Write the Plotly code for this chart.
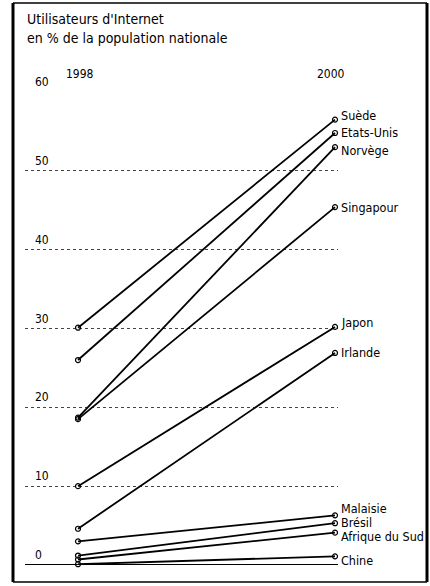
import plotly.graph_objects as go

# ---- data ----
years = [1998, 2000]
countries = ["Suède", "Etats-Unis", "Norvège", "Singapour", "Japon", "Irlande",
             "Malaisie", "Brésil", "Afrique du Sud", "Chine"]
values_1998 = [30.1, 26.0, 18.7, 18.5, 10.0, 4.6, 3.0, 1.2, 0.7, 0.1]
values_2000 = [56.5, 54.8, 53.0, 45.4, 30.2, 26.9, 6.3, 5.3, 4.1, 1.1]
y_ticks = [0, 10, 20, 30, 40, 50, 60]
title_lines = ["Utilisateurs d'Internet", "en % de la population nationale"]

# label vertical nudges (pixels) to avoid overlaps
label_shift = [4, 0, -3, 0, 4, 0, 7, 1, -4, -4]

W, H = 430, 586
L, R, T, B = 25, 92, 92, 21
pw, ph = W - L - R, H - T - B

def px_x(x):
    return (x - L) / pw

def px_y(y):
    return (H - B - y) / ph

FONT = "Liberation Sans Narrow, DejaVu Sans Condensed, Roboto Condensed, Arial Narrow, sans-serif"

fig = go.Figure()
for name, a, b in zip(countries, values_1998, values_2000):
    fig.add_trace(go.Scatter(
        x=years, y=[a, b], mode="lines+markers", name=name,
        line=dict(color="black", width=1.8),
        marker=dict(symbol="circle-open", size=5, color="black", line=dict(width=1.2)),
        cliponaxis=False, showlegend=False, hoverinfo="skip"))

annotations = []
for name, v, s in zip(countries, values_2000, label_shift):
    annotations.append(dict(x=2000, y=v, text=name, xanchor="left", yanchor="middle",
                            xshift=4, yshift=s, showarrow=False,
                            font=dict(family=FONT, size=12.5, color="black")))
for t in y_ticks:
    annotations.append(dict(x=px_x(33), y=t, xref="paper", yref="y", text=str(t),
                            xanchor="left", yanchor="bottom", yshift=1, showarrow=False,
                            font=dict(family=FONT, size=12, color="black")))
for yr in years:
    annotations.append(dict(x=yr, y=px_y(74), yref="paper", text=str(yr),
                            xanchor="center", yanchor="middle", xshift=-4 if yr == 2000 else 2,
                            showarrow=False, font=dict(family=FONT, size=12, color="black")))
for i, line in enumerate(title_lines):
    annotations.append(dict(x=px_x(25), y=px_y(19 + 19 * i), xref="paper", yref="paper",
                            text=line, xanchor="left", yanchor="middle", showarrow=False,
                            font=dict(family=FONT, size=14, color="black")))

def frame_line(x0, y0, x1, y1, w):
    return dict(type="line", xref="paper", yref="paper",
                x0=px_x(x0), x1=px_x(x1), y0=px_y(y0), y1=px_y(y1),
                line=dict(color="black", width=w), layer="above")

shapes = [
    frame_line(13, 3, 427, 3, 1.5),      # top
    frame_line(13, 582, 427, 582, 1.5),  # bottom
    frame_line(13, 3, 13, 582, 3),       # left
    frame_line(427, 3, 427, 582, 3),     # right
    dict(type="line", xref="paper", yref="y", x0=0, x1=1, y0=0, y1=0,
         line=dict(color="black", width=2)),
]

fig.update_layout(
    width=W, height=H, margin=dict(l=L, r=R, t=T, b=B),
    paper_bgcolor="white", plot_bgcolor="white",
    xaxis=dict(range=[1997.5875, 2000.0233], showgrid=False, zeroline=False,
               showticklabels=False, ticks="", showline=False),
    yaxis=dict(range=[0, 60], tickvals=y_ticks[1:], showticklabels=False, ticks="",
               showgrid=True, gridcolor="#444", griddash="dot", gridwidth=1,
               zeroline=False, showline=False),
    annotations=annotations, shapes=shapes,
)

fig.write_html("out.html", config={"displayModeBar": False},
               post_script="document.body.style.margin='0';document.body.style.overflow='hidden';")
